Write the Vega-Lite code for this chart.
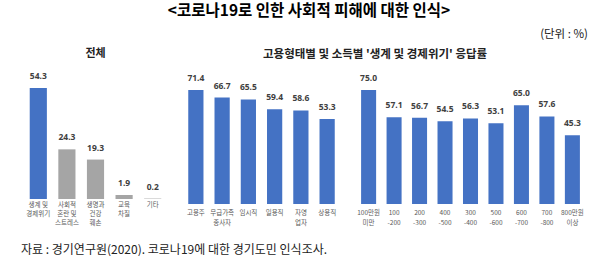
{
  "$schema": "https://vega.github.io/schema/vega-lite/v6.json",
  "padding": {"left": 21, "top": 4, "right": 0, "bottom": 0},
  "config": {
    "view": {"stroke": null},
    "font": "Noto Sans CJK KR",
    "concat": {"spacing": 16}
  },
  "title": {"text": "자료 : 경기연구원(2020). 코로나19에 대한 경기도민 인식조사.", "orient": "bottom", "anchor": "start", "fontSize": 12, "fontWeight": "normal", "color": "#222222", "offset": 18, "dx": -3, "font": "Noto Sans CJK KR"},
  "vconcat": [
    {
      "title": {"text": "<코로나19로 인한 사회적 피해에 대한 인식>", "anchor": "middle", "fontSize": 15.5, "fontWeight": "bold", "color": "#000000", "dx": 3, "offset": 9, "font": "Noto Sans CJK KR"},
      "vconcat": [
        {
          "title": {"text": "(단위 : %)", "anchor": "end", "fontSize": 11.5, "fontWeight": "normal", "color": "#222222", "dx": 3, "offset": 8, "font": "Noto Sans CJK KR"},
          "bounds": "flush",
          "hconcat": [
            {
              "width": 143,
              "height": 128,
              "title": {"text": "전체", "frame": "group", "offset": 13, "fontSize": 11, "fontWeight": "bold", "color": "#222222", "font": "Noto Sans CJK KR"},
              "data": {"values": [
                {"cat": "생계 및\n경제위기", "val": 54.3},
                {"cat": "사회적\n혼란 및\n스트레스", "val": 24.3},
                {"cat": "생명과\n건강\n훼손", "val": 19.3},
                {"cat": "교육\n차질", "val": 1.9},
                {"cat": "기타", "val": 0.2}
              ]},
              "encoding": {"x": {"field": "cat", "type": "nominal", "sort": null, "axis": null, "scale": {"paddingInner": 0.4, "paddingOuter": 0.2}}},
              "layer": [
                {"mark": {"type": "bar"}, "encoding": {
                  "y": {"field": "val", "type": "quantitative", "axis": null, "scale": {"domain": [-2.45, 60.2], "nice": false, "zero": false}},
                  "color": {"condition": {"test": "datum.val > 50", "value": "#4472C4"}, "value": "#A5A5A5"}
                }},
                {"mark": {"type": "text", "baseline": "middle", "dy": -12, "fontSize": 8.5, "fontWeight": "bold", "color": "#404040", "font": "Noto Sans"}, "encoding": {
                  "y": {"field": "val", "type": "quantitative", "axis": null, "scale": {"domain": [-2.45, 60.2], "nice": false, "zero": false}},
                  "text": {"field": "val", "type": "quantitative", "format": ".1f"}
                }},
                {"mark": {"type": "text", "baseline": "top", "dy": 3, "fontSize": 6.5, "lineBreak": "\n", "lineHeight": 9, "color": "#595959"}, "encoding": {
                  "y": {"datum": 0, "type": "quantitative"},
                  "text": {"field": "cat"}
                }}
              ]
            },
            {
              "title": {"text": "고용형태별 및 소득별 '생계 및 경제위기' 응답률", "frame": "group", "anchor": "start", "dx": 80, "offset": 13, "fontSize": 11.5, "fontWeight": "bold", "color": "#222222", "font": "Noto Sans CJK KR"},
              "bounds": "flush",
              "hconcat": [
                {
                  "width": 157,
                  "height": 128,
                  "data": {"values": [
                    {"cat": "고용주", "val": 71.4},
                    {"cat": "무급가족\n종사자", "val": 66.7},
                    {"cat": "임시직", "val": 65.5},
                    {"cat": "일용직", "val": 59.4},
                    {"cat": "자영\n업자", "val": 58.6},
                    {"cat": "상용직", "val": 53.3}
                  ]},
                  "encoding": {"x": {"field": "cat", "type": "nominal", "sort": null, "axis": null, "scale": {"paddingInner": 0.42, "paddingOuter": 0.2}}},
                  "layer": [
                    {"mark": {"type": "bar", "color": "#4472C4"}, "encoding": {
                      "y": {"field": "val", "type": "quantitative", "axis": null, "scale": {"domain": [0, 80.2], "nice": false}}
                    }},
                    {"mark": {"type": "text", "baseline": "middle", "dy": -12, "fontSize": 8.5, "fontWeight": "bold", "color": "#404040", "font": "Noto Sans"}, "encoding": {
                      "y": {"field": "val", "type": "quantitative", "axis": null, "scale": {"domain": [0, 80.2], "nice": false}},
                      "text": {"field": "val", "type": "quantitative", "format": ".1f"}
                    }},
                    {"mark": {"type": "text", "baseline": "top", "dy": 6, "fontSize": 6.5, "lineBreak": "\n", "lineHeight": 10, "color": "#595959"}, "encoding": {
                      "y": {"datum": 0, "type": "quantitative"},
                      "text": {"field": "cat"}
                    }}
                  ]
                },
                {
                  "width": 229,
                  "height": 128,
                  "data": {"values": [
                    {"cat": "100만원\n미만", "val": 75.0},
                    {"cat": "100\n-200", "val": 57.1},
                    {"cat": "200\n-300", "val": 56.7},
                    {"cat": "400\n-500", "val": 54.5},
                    {"cat": "300\n-400", "val": 56.3},
                    {"cat": "500\n-600", "val": 53.1},
                    {"cat": "600\n-700", "val": 65.0},
                    {"cat": "700\n-800", "val": 57.6},
                    {"cat": "800만원\n이상", "val": 45.3}
                  ]},
                  "encoding": {"x": {"field": "cat", "type": "nominal", "sort": null, "axis": null, "scale": {"paddingInner": 0.41, "paddingOuter": 0.2}}},
                  "layer": [
                    {"mark": {"type": "bar", "color": "#4472C4"}, "encoding": {
                      "y": {"field": "val", "type": "quantitative", "axis": null, "scale": {"domain": [0, 84.2], "nice": false}}
                    }},
                    {"mark": {"type": "text", "baseline": "middle", "dy": -12, "fontSize": 8.5, "fontWeight": "bold", "color": "#404040", "font": "Noto Sans"}, "encoding": {
                      "y": {"field": "val", "type": "quantitative", "axis": null, "scale": {"domain": [0, 84.2], "nice": false}},
                      "text": {"field": "val", "type": "quantitative", "format": ".1f"}
                    }},
                    {"mark": {"type": "text", "baseline": "top", "dy": 6, "fontSize": 6.5, "lineBreak": "\n", "lineHeight": 10, "color": "#595959"}, "encoding": {
                      "y": {"datum": 0, "type": "quantitative"},
                      "text": {"field": "cat"}
                    }}
                  ]
                }
              ]
            }
          ]
        }
      ]
    }
  ]
}
